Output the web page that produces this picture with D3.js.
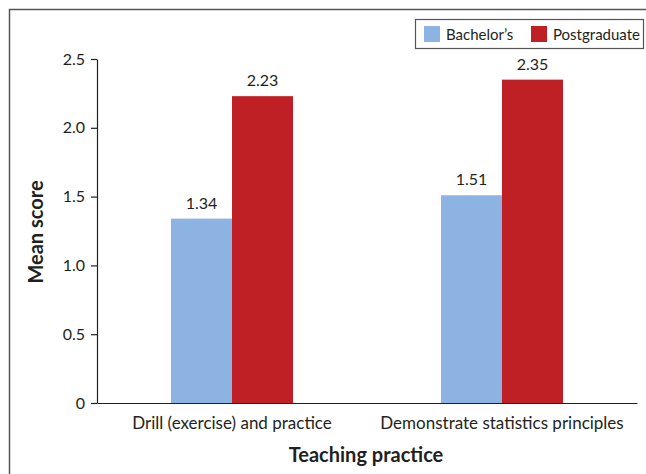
<!DOCTYPE html>
<html>
<head>
<meta charset="utf-8">
<script src="https://cdn.jsdelivr.net/npm/d3@7"></script>
<style>
  body { margin: 0; background: #fff; }
  svg text { font-family: Lato, "Open Sans", sans-serif; fill: #231f20; }
</style>
</head>
<body>
<svg id="chart"></svg>
<script>
// chart data
let categories = ['Drill (exercise) and practice', 'Demonstrate statistics principles'];
let seriesNames = ['Bachelor\u2019s', 'Postgraduate'];
let bachelors = [1.34, 1.51];
let postgrad = [2.23, 2.35];
let yTicks = [0, 0.5, 1.0, 1.5, 2.0, 2.5];

let width = 646;
let height = 474;
let colors = ['#8db3e2', '#be2026'];

let svg = d3.select('#chart').attr('width', width).attr('height', height);

// outer frame (cut off on right and bottom)
svg.append('rect').attr('x', 9.5).attr('y', 9.5).attr('width', 660).attr('height', 500)
	.attr('fill', 'none').attr('stroke', '#555').attr('stroke-width', 1.5);

let plotLeft = 97, plotRight = 637, plotTop = 59, plotBottom = 403;

let xScale = d3.scaleBand().domain(categories).range([plotLeft, plotRight]).paddingInner(0).paddingOuter(0);
let yScale = d3.scaleLinear().domain([0, 2.5]).range([plotBottom, plotTop]);
let groupW = 122;
let inner = d3.scaleBand().domain(seriesNames).range([0, groupW]);

// axes
let yAxis = d3.axisLeft(yScale).tickValues(yTicks).tickSize(6).tickSizeOuter(0)
	.tickFormat((d) => d === 0 ? '0' : d3.format('.1f')(d));
let gy = svg.append('g').attr('transform', 'translate(' + plotLeft + ', 0)').call(yAxis);
gy.selectAll('text').style('font-size', '16px').attr('x', -12);
gy.selectAll('line, path').attr('stroke', '#231f20').attr('stroke-width', 1.2);

let xAxis = d3.axisBottom(xScale).tickSize(0).tickSizeOuter(0);
let gx = svg.append('g').attr('transform', 'translate(0, ' + plotBottom + ')').call(xAxis);
gx.selectAll('text').style('font-size', '17px').attr('dy', '0').attr('y', 26);
gx.select('path').attr('stroke', '#231f20').attr('stroke-width', 1.2);

// bars
let rows = categories.map((c, i) => ({ cat: c, vals: [bachelors[i], postgrad[i]] }));
let groups = svg.selectAll('.grp').data(rows).enter().append('g').classed('grp', true)
	.attr('transform', (d) => 'translate(' + (xScale(d.cat) + xScale.bandwidth() / 2 - groupW / 2) + ', 0)');

groups.selectAll('rect').data((d) => d.vals.map((v, j) => ({ v: v, s: seriesNames[j], j: j }))).enter()
	.append('rect')
	.attr('x', (d) => inner(d.s))
	.attr('y', (d) => yScale(d.v))
	.attr('width', inner.bandwidth())
	.attr('height', (d) => plotBottom - yScale(d.v))
	.attr('fill', (d) => colors[d.j]);

groups.selectAll('.lbl').data((d) => d.vals.map((v, j) => ({ v: v, s: seriesNames[j] }))).enter()
	.append('text').classed('lbl', true)
	.attr('x', (d) => inner(d.s) + inner.bandwidth() / 2)
	.attr('y', (d) => yScale(d.v) - 10)
	.style('text-anchor', 'middle').style('font-size', '16px')
	.text((d) => d3.format('.2f')(d.v));

// axis titles
svg.append('text').attr('transform', 'rotate(-90)').attr('x', -232).attr('y', 43)
	.style('text-anchor', 'middle').style('font-size', '20px').style('font-weight', 'bold').text('Mean score');
svg.append('text').attr('x', 366).attr('y', 462)
	.style('text-anchor', 'middle').style('font-size', '20px').style('font-weight', 'bold').text('Teaching practice');

// legend
let legend = svg.append('g');
legend.append('rect').attr('x', 415.5).attr('y', 19.5).attr('width', 228).attr('height', 29)
	.attr('fill', '#fff').attr('stroke', '#555').attr('stroke-width', 1.2);
let lx = [424, 531];
seriesNames.forEach((s, i) => {
	legend.append('rect').attr('x', lx[i]).attr('y', 26).attr('width', 16).attr('height', 16).attr('fill', colors[i]);
	legend.append('text').attr('x', lx[i] + 22).attr('y', 39.5).style('font-size', '15px').text(s);
});
</script>
</body>
</html>
